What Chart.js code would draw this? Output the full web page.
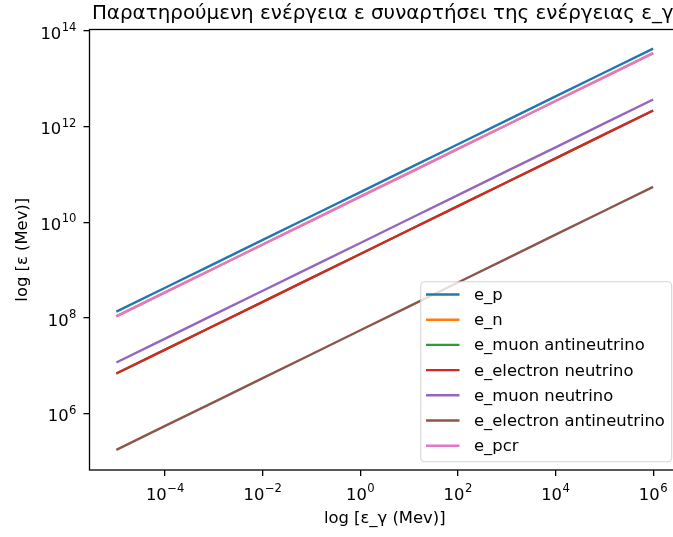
<!DOCTYPE html>
<html>
<head>
<meta charset="utf-8">
<script src="https://cdn.jsdelivr.net/npm/chart.js@4.4.1/dist/chart.umd.min.js"></script>
<style>
  html, body { margin: 0; padding: 0; background: #ffffff; overflow: hidden; }
  #wrap { width: 673px; height: 537px; overflow: hidden; position: relative; }
  canvas { position: absolute; left: 0; top: 0; }
</style>
</head>
<body>
<div id="wrap"><canvas id="c" width="700" height="537"></canvas></div>
<script>
// Photon energy ε_γ (MeV)
const photonEnergy = [1e-5, 1e-4, 1e-3, 1e-2, 1e-1, 1e0, 1e1, 1e2, 1e3, 1e4, 1e5, 1e6];

// Observed energies ε (MeV) for each product
const eP      = [1.35e8, 4.27e8, 1.35e9, 4.27e9, 1.35e10, 4.27e10, 1.35e11, 4.27e11, 1.35e12, 4.27e12, 1.35e13, 4.27e13];
const eN      = [1.08e8, 3.43e8, 1.08e9, 3.43e9, 1.08e10, 3.43e10, 1.08e11, 3.43e11, 1.08e12, 3.43e12, 1.08e13, 3.43e13];
const eMuonAntineutrino     = [6.87e6, 2.17e7, 6.87e7, 2.17e8, 6.87e8, 2.17e9, 6.87e9, 2.17e10, 6.87e10, 2.17e11, 6.87e11, 2.17e12];
const eElectronNeutrino     = [6.87e6, 2.17e7, 6.87e7, 2.17e8, 6.87e8, 2.17e9, 6.87e9, 2.17e10, 6.87e10, 2.17e11, 6.87e11, 2.17e12];
const eMuonNeutrino         = [1.17e7, 3.69e7, 1.17e8, 3.69e8, 1.17e9, 3.69e9, 1.17e10, 3.69e10, 1.17e11, 3.69e11, 1.17e12, 3.69e12];
const eElectronAntineutrino = [1.74e5, 5.51e5, 1.74e6, 5.51e6, 1.74e7, 5.51e7, 1.74e8, 5.51e8, 1.74e9, 5.51e9, 1.74e10, 5.51e10];
const ePcr    = [1.08e8, 3.43e8, 1.08e9, 3.43e9, 1.08e10, 3.43e10, 1.08e11, 3.43e11, 1.08e12, 3.43e12, 1.08e13, 3.43e13];

const seriesLabels = ['e_p', 'e_n', 'e_muon antineutrino', 'e_electron neutrino', 'e_muon neutrino', 'e_electron antineutrino', 'e_pcr'];
const seriesValues = [eP, eN, eMuonAntineutrino, eElectronNeutrino, eMuonNeutrino, eElectronAntineutrino, ePcr];
const seriesColors = ['#1f77b4', '#ff7f0e', '#2ca02c', '#d62728', '#9467bd', '#8c564b', '#e377c2'];

// Tick labels (powers of ten)
const xTickExponents = [-4, -2, 0, 2, 4, 6];
const yTickExponents = [6, 8, 10, 12, 14];

const titleText = 'Παρατηρούμενη ενέργεια ε συναρτήσει της ενέργειας ε_γ';
const xTitleText = 'log [ε_γ (Mev)]';
const yTitleText = 'log [ε (Mev)]';

const FONT = '"DejaVu Sans", "Liberation Sans", sans-serif';
const LABEL_PX = 16.4;
const SUP_PX = 11.6;

const datasets = seriesLabels.map((label, i) => ({
  label,
  data: photonEnergy.map((x, k) => ({ x, y: seriesValues[i][k] })),
  borderColor: seriesColors[i],
  backgroundColor: seriesColors[i],
  borderWidth: 2.4,
  pointRadius: 0,
  fill: false,
  tension: 0,
  // later series are painted over earlier ones
  order: seriesLabels.length - i
}));

function supText(exp) {
  return exp < 0 ? '\u2212' + Math.abs(exp) : String(exp);
}

function drawPower(ctx, exp, x, baseline, align) {
  ctx.font = LABEL_PX + 'px ' + FONT;
  const wBase = ctx.measureText('10').width;
  ctx.font = SUP_PX + 'px ' + FONT;
  const s = supText(exp);
  const wSup = ctx.measureText(s).width;
  const total = wBase + wSup + 0.5;
  let x0 = align === 'center' ? x - total / 2 : x - total;
  ctx.textAlign = 'left';
  ctx.textBaseline = 'alphabetic';
  ctx.font = LABEL_PX + 'px ' + FONT;
  ctx.fillText('10', x0, baseline);
  ctx.font = SUP_PX + 'px ' + FONT;
  ctx.fillText(s, x0 + wBase + 0.5, baseline - 7.6);
}

const decorations = {
  id: 'decorations',
  afterDatasetsDraw(chart) {
    const ctx = chart.ctx;
    const a = chart.chartArea;
    ctx.save();
    // axes frame
    ctx.strokeStyle = '#000';
    ctx.lineWidth = 1.3;
    ctx.strokeRect(a.left, a.top, a.right - a.left, a.bottom - a.top);

    ctx.fillStyle = '#000';
    // x tick labels
    const xs = chart.scales.x;
    xs.ticks.forEach(t => {
      const px = xs.getPixelForValue(t.value);
      drawPower(ctx, Math.round(Math.log10(t.value)), px, a.bottom + 30, 'center');
    });
    // y tick labels
    const ys = chart.scales.y;
    ys.ticks.forEach(t => {
      const py = ys.getPixelForValue(t.value);
      drawPower(ctx, Math.round(Math.log10(t.value)), a.left - 13, py + 7.6, 'right');
    });

    // axis titles
    const cx = (a.left + a.right) / 2;
    const cy = (a.top + a.bottom) / 2;
    ctx.font = LABEL_PX + 'px ' + FONT;
    ctx.textAlign = 'center';
    ctx.textBaseline = 'alphabetic';
    ctx.fillText(xTitleText, cx, 523);
    ctx.save();
    ctx.translate(27, cy);
    ctx.rotate(-Math.PI / 2);
    ctx.fillText(yTitleText, 0, 0);
    ctx.restore();

    // chart title
    ctx.font = '19.9px ' + FONT;
    ctx.fillText(titleText, cx - 2, 19);

    // legend
    const lx = 420.7, ly = 281.7, lw = 251, lh = 180, r = 4;
    ctx.globalAlpha = 0.8;
    ctx.beginPath();
    ctx.moveTo(lx + r, ly);
    ctx.lineTo(lx + lw - r, ly);
    ctx.arcTo(lx + lw, ly, lx + lw, ly + r, r);
    ctx.lineTo(lx + lw, ly + lh - r);
    ctx.arcTo(lx + lw, ly + lh, lx + lw - r, ly + lh, r);
    ctx.lineTo(lx + r, ly + lh);
    ctx.arcTo(lx, ly + lh, lx, ly + lh - r, r);
    ctx.lineTo(lx, ly + r);
    ctx.arcTo(lx, ly, lx + r, ly, r);
    ctx.closePath();
    ctx.fillStyle = '#ffffff';
    ctx.fill();
    ctx.strokeStyle = '#cccccc';
    ctx.lineWidth = 1.1;
    ctx.stroke();
    ctx.globalAlpha = 1;

    chart.data.datasets.forEach((ds, i) => {
      const rowY = 294.5 + i * 25.2;
      ctx.strokeStyle = ds.borderColor;
      ctx.lineWidth = 2.4;
      ctx.beginPath();
      ctx.moveTo(426, rowY);
      ctx.lineTo(459.5, rowY);
      ctx.stroke();
      ctx.fillStyle = '#000';
      ctx.font = LABEL_PX + 'px ' + FONT;
      ctx.textAlign = 'left';
      ctx.textBaseline = 'alphabetic';
      ctx.fillText(ds.label, 474, rowY + 5.5);
    });
    ctx.restore();
  }
};

new Chart(document.getElementById('c'), {
  type: 'line',
  data: { datasets },
  options: {
    responsive: false,
    animation: false,
    devicePixelRatio: 1,
    parsing: true,
    layout: { padding: { top: 29.5, right: 20, left: 0, bottom: 0 } },
    plugins: {
      legend: { display: false },
      tooltip: { enabled: false },
      title: { display: false }
    },
    scales: {
      x: {
        type: 'logarithmic',
        position: 'bottom',
        min: Math.pow(10, -5.55),
        max: Math.pow(10, 6.55),
        afterBuildTicks: s => { s.ticks = xTickExponents.map(e => ({ value: Math.pow(10, e) })); },
        afterFit: s => { s.height = 67; },
        ticks: { display: false },
        border: { display: false },
        grid: { display: true, drawOnChartArea: false, drawTicks: true, tickLength: 6, color: '#000', lineWidth: 1.3 }
      },
      y: {
        type: 'logarithmic',
        position: 'left',
        min: Math.pow(10, 4.82),
        max: Math.pow(10, 14.03),
        afterBuildTicks: s => { s.ticks = yTickExponents.map(e => ({ value: Math.pow(10, e) })); },
        afterFit: s => { s.width = 89.5; },
        ticks: { display: false },
        border: { display: false },
        grid: { display: true, drawOnChartArea: false, drawTicks: true, tickLength: 6, color: '#000', lineWidth: 1.3 }
      }
    }
  },
  plugins: [decorations]
});
</script>
</body>
</html>
